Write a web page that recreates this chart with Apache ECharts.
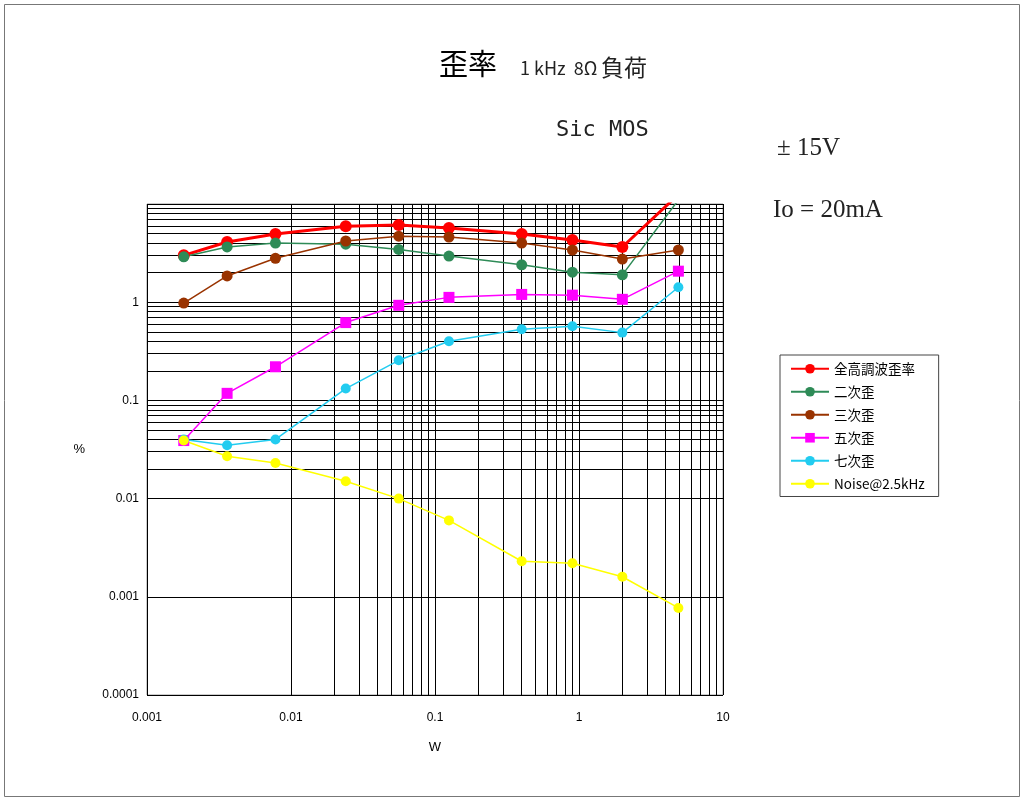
<!DOCTYPE html>
<html>
<head>
<meta charset="utf-8">
<script src="https://cdn.jsdelivr.net/npm/echarts@6/dist/echarts.min.js"></script>
<style>
  html, body { margin: 0; padding: 0; background: #fff; }
  #chart { width: 1024px; height: 801px; }
</style>
</head>
<body>
<div id="chart"></div>
<script>
// output power (W)
const power = [0.0018, 0.0036, 0.0078, 0.024, 0.056, 0.125, 0.4, 0.9, 2.0, 4.9];

// distortion (%)
const thd      = [3.0, 4.1, 4.95, 5.95, 6.1, 5.7, 4.95, 4.3, 3.65, 12.5];
const second   = [2.9, 3.65, 4.0, 3.9, 3.45, 2.95, 2.4, 2.02, 1.9, 11];
const third    = [0.98, 1.85, 2.8, 4.2, 4.7, 4.6, 4.0, 3.4, 2.75, 3.4];
const fifth    = [0.039, 0.118, 0.22, 0.62, 0.93, 1.12, 1.2, 1.18, 1.07, 2.07];
const seventh  = [0.04, 0.035, 0.04, 0.132, 0.256, 0.4, 0.53, 0.57, 0.49, 1.42];
const noise    = [0.039, 0.027, 0.023, 0.015, 0.01, 0.006, 0.0023, 0.0022, 0.0016, 0.00077];

const seriesNames = ['全高調波歪率', '二次歪', '三次歪', '五次歪', '七次歪', 'Noise@2.5kHz'];
const xTickLabels = ['0.001', '0.01', '0.1', '1', '10'];
const yTickLabels = ['0.0001', '0.001', '0.01', '0.1', '1'];

function pairs(values) {
  return values.map((v, i) => [power[i], v]);
}

// 2..9 lines inside each decade
function minorValues(fromExp, toExp) {
  const out = [];
  for (let e = fromExp; e < toExp; e++) {
    for (let k = 2; k <= 9; k++) out.push(Number((k * Math.pow(10, e)).toPrecision(3)));
  }
  return out;
}
const minorLines = minorValues(-3, 1).map(v => ({ xAxis: v }))
  .concat(minorValues(-4, 1).map(v => ({ yAxis: v })));

function makeSeries(name, values, color, symbol, size, width) {
  return {
    name: name,
    type: 'line',
    data: pairs(values),
    symbol: symbol,
    symbolSize: size,
    z: 5,
    lineStyle: { color: color, width: width },
    itemStyle: { color: color },
    emphasis: { disabled: true }
  };
}

const chart = echarts.init(document.getElementById('chart'));

const option = {
  animation: false,
  textStyle: { fontFamily: 'Liberation Sans' },
  grid: {
    left: 147, top: 204, width: 576, height: 491,
    show: true, borderColor: '#999', borderWidth: 1, backgroundColor: '#fff'
  },
  legend: {
    orient: 'vertical',
    left: 780, top: 355,
    padding: [7, 14, 6, 10],
    borderColor: '#444', borderWidth: 1,
    itemWidth: 38, itemHeight: 12, itemGap: 9.5,
    data: seriesNames,
    textStyle: { fontFamily: 'Noto Sans CJK JP', fontSize: 13.5, color: '#000' }
  },
  xAxis: {
    type: 'log', logBase: 10, min: 0.001, max: 10,
    name: 'W', nameLocation: 'middle', nameGap: 46,
    nameTextStyle: { fontSize: 13, color: '#000' },
    axisLine: { show: false },
    axisTick: { show: false },
    axisLabel: {
      color: '#000', fontSize: 12, margin: 17,
      formatter: v => {
        const i = Math.round(Math.log10(v)) + 3;
        return xTickLabels[i] ?? '';
      }
    },
    splitLine: { show: true, lineStyle: { color: '#000', width: 1 } }
  },
  yAxis: {
    type: 'log', logBase: 10, min: 0.0001, max: 10,
    name: '%', nameLocation: 'middle', nameGap: 62, nameRotate: 0,
    nameTextStyle: { fontSize: 13, color: '#000' },
    axisLine: { show: false },
    axisTick: { show: false },
    axisLabel: {
      color: '#000', fontSize: 12, margin: 8,
      formatter: v => {
        const i = Math.round(Math.log10(v)) + 4;
        return yTickLabels[i] ?? '';
      }
    },
    splitLine: { show: true, lineStyle: { color: '#000', width: 1 } }
  },
  graphic: [
    { type: 'rect', shape: { x: 4.5, y: 4.5, width: 1015, height: 792 },
      style: { fill: 'none', stroke: '#777', lineWidth: 1 }, silent: true },
    { type: 'text', left: 439, top: 49,
      style: { text: '歪率', font: '29px "Noto Sans CJK JP"', fill: '#000' } },
    { type: 'text', left: 520, top: 59,
      style: { text: '1 kHz  8Ω', font: '18px "Noto Sans CJK JP"', fill: '#222' } },
    { type: 'text', left: 601, top: 56,
      style: { text: '負荷', font: '23px "Noto Sans CJK JP"', fill: '#222' } },
    { type: 'text', left: 556, top: 119,
      style: { text: 'Sic MOS', font: '22px "DejaVu Sans Mono"', fill: '#222' } },
    { type: 'text', left: 777, top: 136,
      style: { text: '± 15V', font: '25px "Liberation Serif"', fill: '#222' } },
    { type: 'text', left: 773, top: 198,
      style: { text: 'Io = 20mA', font: '25px "Liberation Serif"', fill: '#222' } }
  ],
  series: [
    {
      name: 'minor grid',
      type: 'line',
      data: [],
      z: 1,
      silent: true,
      markLine: {
        silent: true,
        symbol: 'none',
        label: { show: false },
        lineStyle: { color: '#000', width: 1, type: 'solid' },
        emphasis: { disabled: true },
        data: minorLines
      }
    },
    makeSeries(seriesNames[0], thd, '#FF0000', 'circle', 12, 3),
    makeSeries(seriesNames[1], second, '#2E8B57', 'circle', 11, 1.5),
    makeSeries(seriesNames[2], third, '#993300', 'circle', 11, 1.5),
    makeSeries(seriesNames[3], fifth, '#FF00FF', 'rect', 11, 1.5),
    makeSeries(seriesNames[4], seventh, '#22CCF0', 'circle', 10, 1.5),
    makeSeries(seriesNames[5], noise, '#FFFF00', 'circle', 10, 1.5)
  ]
};

chart.setOption(option);
</script>
</body>
</html>
